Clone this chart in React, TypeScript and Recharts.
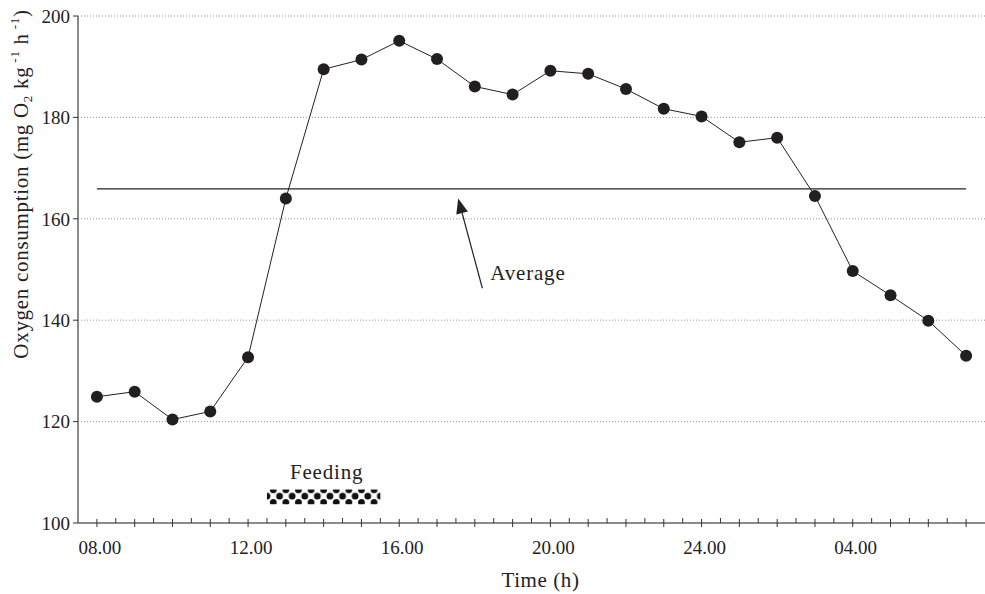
import React from 'react';
import { LineChart, Line, XAxis, YAxis, CartesianGrid, ReferenceLine, ReferenceArea } from 'recharts';

// Hour of day (8 = 08.00, 24 = midnight, 31 = 07.00 next day)
const hours = [8, 9, 10, 11, 12, 13, 14, 15, 16, 17, 18, 19, 20, 21, 22, 23, 24, 25, 26, 27, 28, 29, 30, 31];
const oxygen = [124.9, 125.9, 120.4, 122.0, 132.7, 164.0, 189.5, 191.4, 195.1, 191.5, 186.1, 184.5, 189.2, 188.6, 185.6, 181.7, 180.2, 175.1, 176.0, 164.5, 149.7, 144.9, 139.9, 133.0];
const averageValue = 165.9;
const labelHours = [8, 12, 16, 20, 24, 28];
const labelTexts = ['08.00', '12.00', '16.00', '20.00', '24.00', '04.00'];
const minorTicks = [8, 8.5, 9, 9.5, 10, 10.5, 11, 11.5, 12, 12.5, 13, 13.5, 14, 14.5, 15, 15.5, 16, 16.5, 17, 17.5, 18, 18.5, 19, 19.5, 20, 20.5, 21, 21.5, 22, 22.5, 23, 23.5, 24, 24.5, 25, 25.5, 26, 26.5, 27, 27.5, 28, 28.5, 29, 29.5, 30, 30.5, 31];
const yTicks = [100, 120, 140, 160, 180, 200];
const feedingStart = 12.5;
const feedingEnd = 15.5;
const arrowFrom = { x: 18.2, y: 146.3 };
const arrowTo = { x: 17.56, y: 164.0 };

const data = hours.map((h, i) => ({ h, v: oxygen[i] }));

const FONT = '"Liberation Serif", serif';
const TEXT = '#222';

const XTick = (props: any) => {
  const { x, y, payload } = props;
  const v = payload.value;
  const isHour = Math.abs(v - Math.round(v)) < 1e-6;
  const idx = labelHours.indexOf(v);
  return (
    <g>
      {isHour ? (
        <line x1={x} x2={x} y1={y - 4} y2={y + 4} stroke="#333" strokeWidth={1} />
      ) : (
        <line x1={x} x2={x} y1={y - 5} y2={y} stroke="#333" strokeWidth={1} />
      )}
      {idx >= 0 && (
        <text x={x + 3} y={y + 31} textAnchor="middle" fontFamily={FONT} fontSize={19} fill={TEXT}>
          {labelTexts[idx]}
        </text>
      )}
    </g>
  );
};

const ArrowShape = (props: any) => {
  const { x1, y1, x2, y2 } = props;
  if (x1 == null) return null;
  const dx = x2 - x1;
  const dy = y2 - y1;
  const len = Math.sqrt(dx * dx + dy * dy);
  const ux = dx / len;
  const uy = dy / len;
  const hl = 15;
  const hw = 6;
  const bx = x2 - ux * hl;
  const by = y2 - uy * hl;
  const px = -uy;
  const py = ux;
  return (
    <g>
      <line x1={x1} y1={y1} x2={bx} y2={by} stroke="#222" strokeWidth={1.2} />
      <polygon
        points={`${x2},${y2} ${bx + px * hw},${by + py * hw} ${bx - px * hw},${by - py * hw}`}
        fill="#222"
      />
      <text x={x1 + 8} y={y1 - 8} fontFamily={FONT} fontSize={21} letterSpacing={0.8} fill={TEXT}>
        Average
      </text>
    </g>
  );
};

const FeedingShape = (props: any) => {
  const { x, y, width, height } = props;
  if (x == null) return null;
  return (
    <g>
      <defs>
        <pattern id="feedDots" patternUnits="userSpaceOnUse" x={x} y={y - 6} width={12.6} height={12.6}>
          <rect x={0} y={0} width={12.6} height={12.6} fill="#fff" />
          <circle cx={6.3} cy={6.3} r={3.4} fill="#111" />
          <circle cx={0} cy={0} r={3.4} fill="#111" />
          <circle cx={12.6} cy={0} r={3.4} fill="#111" />
          <circle cx={0} cy={12.6} r={3.4} fill="#111" />
          <circle cx={12.6} cy={12.6} r={3.4} fill="#111" />
        </pattern>
      </defs>
      <rect x={x} y={y} width={width} height={height} fill="url(#feedDots)" />
      <text x={x + width / 2 + 3} y={y - 11} textAnchor="middle" fontFamily={FONT} fontSize={21} letterSpacing={0.8} fill={TEXT}>
        Feeding
      </text>
    </g>
  );
};

const YLabel = () => (
  <text
    transform="translate(28,184) rotate(-90)"
    textAnchor="middle"
    fontFamily={FONT}
    fontSize={21}
    letterSpacing={0.7}
    fill={TEXT}
  >
    Oxygen consumption (mg O
    <tspan fontSize={13} dy={4}>2</tspan>
    <tspan dy={-4}> kg</tspan>
    <tspan fontSize={13} dy={-9}> -1</tspan>
    <tspan dy={9}> h</tspan>
    <tspan fontSize={13} dy={-9}> -1</tspan>
    <tspan dy={9}>)</tspan>
  </text>
);

export default function App() {
  return (
    <div style={{ position: 'absolute', left: 0, top: 0, width: 985, height: 594, background: '#fff' }}>
      <LineChart width={985} height={594} data={data} margin={{ top: 16, right: 0, bottom: 41, left: 18 }}>
        <CartesianGrid vertical={false} stroke="#999" strokeDasharray="1 2" horizontalValues={[120, 140, 160, 180, 200]} />
        <XAxis
          dataKey="h"
          type="number"
          domain={[7.5, 31.5]}
          ticks={minorTicks}
          interval={0}
          tickSize={0}
          tickMargin={0}
          tickLine={false}
          axisLine={{ stroke: '#666', strokeWidth: 1.5 }}
          tick={<XTick />}
          height={30}
          label={{ value: 'Time (h)', position: 'insideBottom', offset: -34, dx: 9, style: { fontFamily: FONT, fontSize: 21, letterSpacing: 0.6, fill: TEXT } }}
        />
        <YAxis
          type="number"
          domain={[100, 200]}
          ticks={yTicks}
          interval={0}
          width={60}
          tickSize={5}
          tickMargin={3}
          tickLine={{ stroke: '#333' }}
          axisLine={{ stroke: '#666', strokeWidth: 1.5 }}
          tick={{ fontFamily: FONT, fontSize: 19, fill: TEXT }}
        />
        <ReferenceLine
          segment={[{ x: 8, y: averageValue }, { x: 31, y: averageValue }]}
          stroke="#222"
          strokeWidth={1.3}
        />
        <ReferenceLine segment={[arrowFrom, arrowTo]} shape={<ArrowShape />} />
        <ReferenceArea x1={feedingStart} x2={feedingEnd} y1={103.7} y2={106.6} shape={<FeedingShape />} />
        <Line
          type="linear"
          dataKey="v"
          stroke="#222"
          strokeWidth={1}
          dot={{ r: 6, fill: '#231f20', stroke: 'none' }}
          isAnimationActive={false}
        />
        <YLabel />
      </LineChart>
    </div>
  );
}
